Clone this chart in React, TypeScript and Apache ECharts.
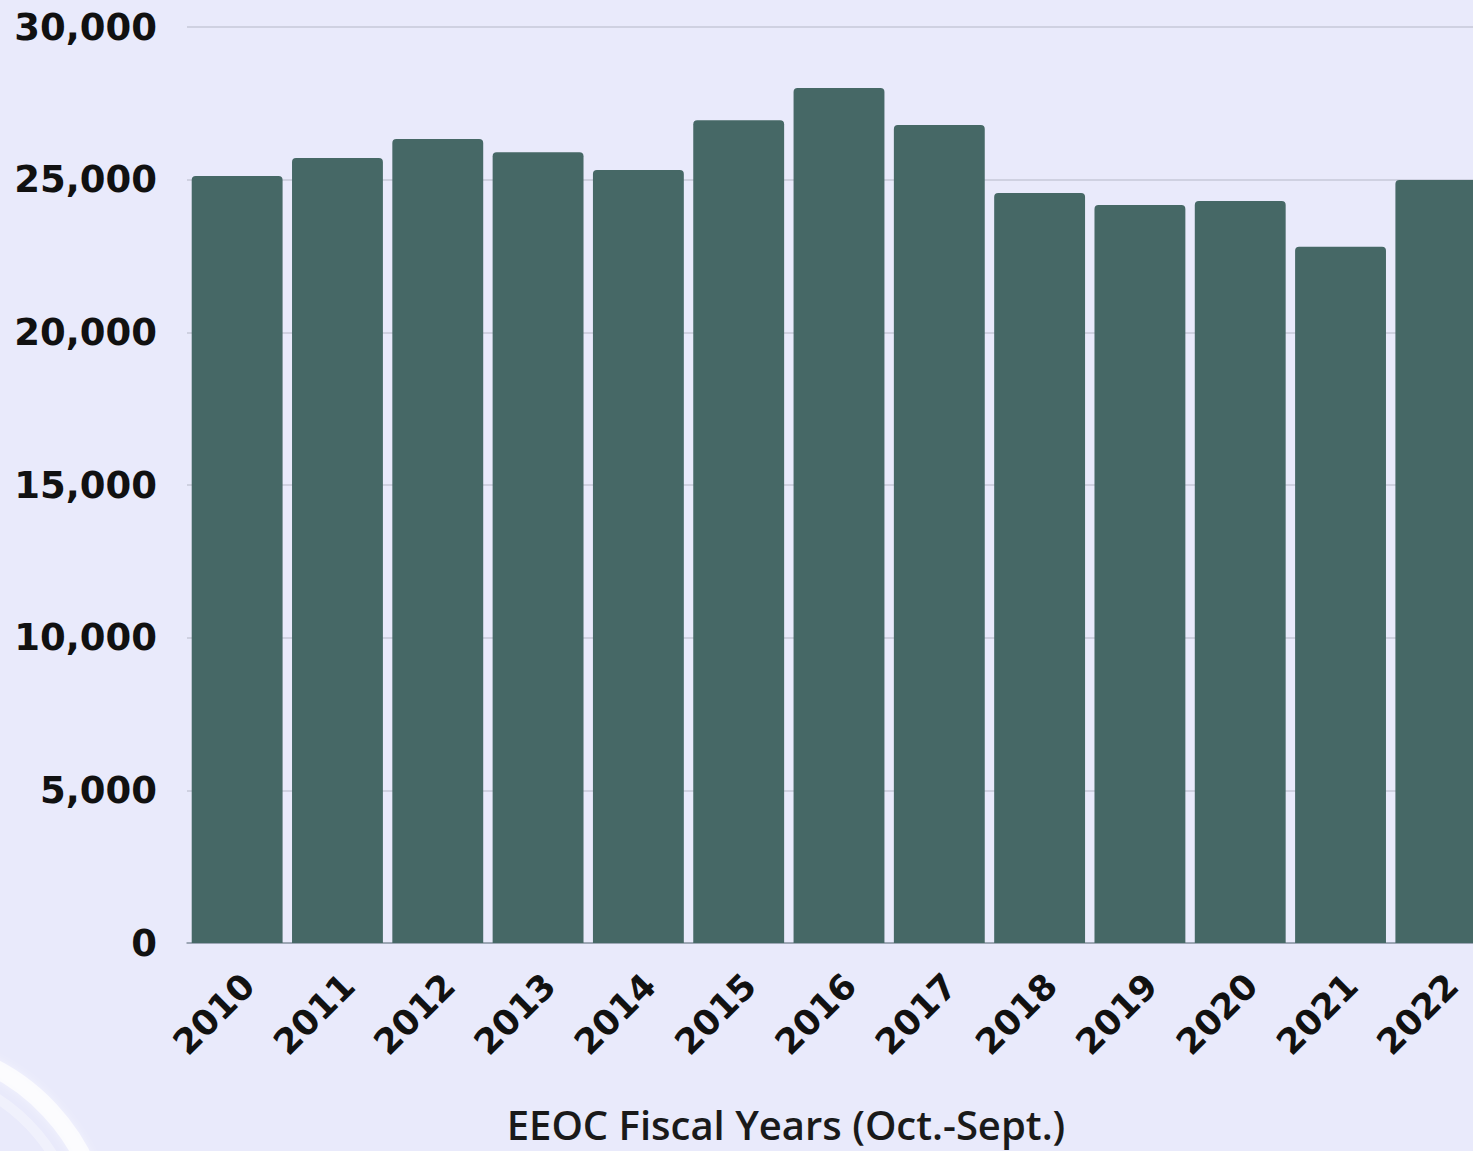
import React, { useEffect, useRef } from "react";
import * as echarts from "echarts";

// EEOC charges received per fiscal year
const years = ["2010", "2011", "2012", "2013", "2014", "2015", "2016", "2017", "2018", "2019", "2020", "2021", "2022"];
const charges = [25120, 25710, 26330, 25900, 25320, 26950, 28000, 26790, 24560, 24170, 24300, 22800, 24990];
const yTicks = { min: 0, max: 30000, interval: 5000 };
const axisTitle = "EEOC Fiscal Years (Oct.-Sept.)";

export default function App() {
  const ref = useRef<HTMLDivElement>(null);

  useEffect(() => {
    if (!ref.current) return;
    const chart = echarts.init(ref.current, undefined, { renderer: "svg" });
    chart.setOption({
      animation: false,
      backgroundColor: "#E9EAFB",
      grid: { left: 187, right: 28, top: 27, bottom: 208, containLabel: false },
      xAxis: {
        type: "category",
        data: years,
        axisLine: { show: true, lineStyle: { color: "#8C98A6", width: 1.5 } },
        axisTick: { show: false },
        axisLabel: {
          rotate: 45,
          margin: 48,
          padding: [0, -16, 0, 0],
          color: "#111",
          fontFamily: "DejaVu Sans",
          fontWeight: "bold",
          fontSize: 35,
          interval: 0,
        },
      },
      yAxis: {
        type: "value",
        min: yTicks.min,
        max: yTicks.max,
        interval: yTicks.interval,
        axisLine: { show: false },
        axisTick: { show: false },
        splitLine: { lineStyle: { color: "#C6C9D9", width: 1.5 } },
        axisLabel: {
          margin: 30,
          color: "#111",
          fontFamily: "DejaVu Sans",
          fontWeight: "bold",
          fontSize: 37,
          formatter: (v: number) => v.toLocaleString("en-US"),
        },
      },
      series: [
        {
          type: "bar",
          data: charges,
          barCategoryGap: "9.4%",
          itemStyle: { color: "#466866", borderRadius: [4, 4, 0, 0] },
        },
      ],
      graphic: [
        // soft decorative swoosh in the lower-left corner
        {
          type: "arc",
          shape: { cx: -100, cy: 1250, r: 205, startAngle: -1.2, endAngle: -0.3, clockwise: true },
          style: { stroke: "rgba(255,255,255,0.75)", lineWidth: 18, fill: "none", shadowBlur: 8, shadowColor: "rgba(255,255,255,0.6)" },
          silent: true,
        },
        {
          type: "arc",
          shape: { cx: -100, cy: 1250, r: 180, startAngle: -1.2, endAngle: -0.2, clockwise: true },
          style: { stroke: "rgba(255,255,255,0.35)", lineWidth: 10, fill: "none" },
          silent: true,
        },
        {
          type: "text",
          x: 786,
          y: 1124,
          style: {
            text: axisTitle,
            fill: "#1a1a1a",
            font: "600 40px 'Open Sans'",
            textAlign: "center",
            textVerticalAlign: "middle",
          },
        },
      ],
    });
    return () => chart.dispose();
  }, []);

  return (
    <div
      ref={ref}
      style={{ position: "fixed", left: 0, top: 0, width: 1519, height: 1151 }}
    />
  );
}
